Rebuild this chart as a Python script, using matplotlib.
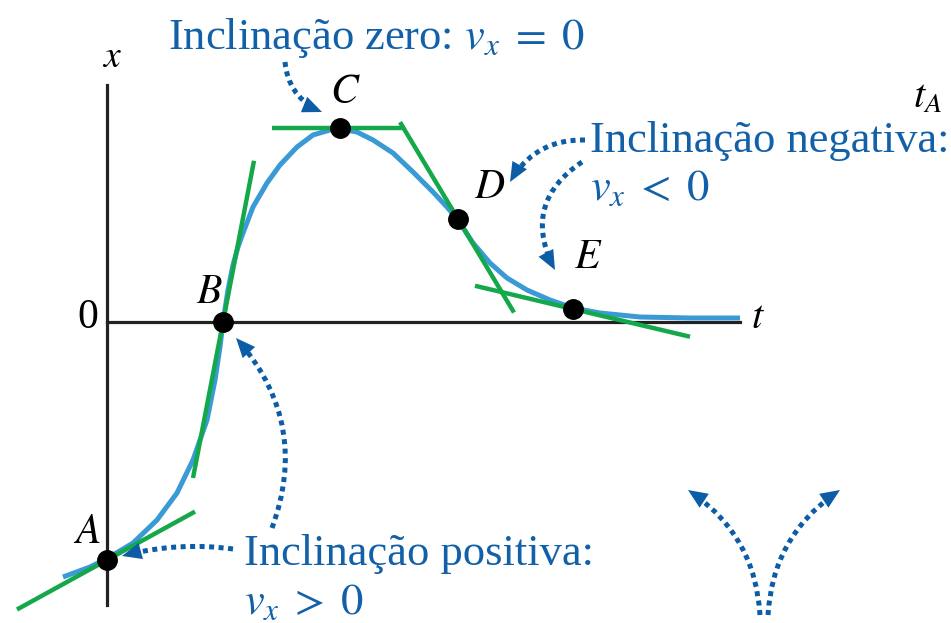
import matplotlib
matplotlib.use("Agg")
import matplotlib.pyplot as plt

plt.rcParams["font.family"] = ["Liberation Serif", "DejaVu Serif"]
plt.rcParams["mathtext.fontset"] = "stix"

CURVE_COLOR = "#3A9AD6"
TANGENT_COLOR = "#14A84A"
NOTE_COLOR = "#1261A8"
ARROW_COLOR = "#0C5CA6"

# position curve x(t), in chart units (origin at the axes crossing)
curve_t = [-0.44, -0.17, 0.01, 0.26, 0.50, 0.70, 0.86, 1.00, 1.08, 1.13,
           1.16, 1.21, 1.26, 1.31, 1.36, 1.46, 1.60, 1.73, 1.90, 2.06,
           2.23, 2.33, 2.50, 2.66, 2.86, 3.06, 3.26, 3.40, 3.51, 3.66,
           3.83, 4.00, 4.20, 4.43, 4.66, 4.93, 5.33, 5.83, 6.33]
curve_x = [-2.55, -2.45, -2.36, -2.21, -1.98, -1.71, -1.38, -0.98, -0.58, -0.25,
           0.00, 0.32, 0.57, 0.75, 0.89, 1.15, 1.39, 1.57, 1.75, 1.87,
           1.92, 1.93, 1.90, 1.82, 1.69, 1.50, 1.30, 1.15, 1.02, 0.79,
           0.59, 0.44, 0.32, 0.22, 0.14, 0.09, 0.05, 0.04, 0.04]

# the five marked instants
point_names = ["A", "B", "C", "D", "E"]
point_t = [0.00, 1.16, 2.33, 3.51, 4.66]
point_x = [-2.38, 0.00, 1.94, 1.03, 0.13]

# tangent at each point: slope and drawn extent in t
tan_slope = [0.55, 5.2, 0.0, -1.67, -0.237]
tan_t0 = [-0.90, 0.86, 1.65, 2.93, 3.68]
tan_t1 = [0.88, 1.47, 2.98, 4.07, 5.83]

# label offsets of point names
label_t = [-0.20, -0.14, 0.05, 0.32, 0.15]
label_x = [0.27, 0.29, 0.35, 0.31, 0.51]

# callout texts (left x, baseline) and curved dotted arrows
notes = [
    ("Inclinação zero: $v_x\\;=\\;0$", 0.61, 2.73),
    ("Inclinação negativa:", 4.83, 1.70),
    ("$v_x\\;<\\;0$", 4.83, 1.22),
    ("Inclinação positiva:", 1.37, -2.43),
    ("$v_x\\;>\\;0$", 1.37, -2.92),
]
arrows = [  # (start t, start x, end t, end x, rad)
    (1.78, 2.60, 2.15, 2.10, 0.30),
    (4.78, 1.82, 4.03, 1.40, 0.30),
    (4.75, 1.60, 4.48, 0.52, 0.45),
    (1.65, -2.06, 1.29, -0.16, 0.30),
    (1.26, -2.27, 0.15, -2.34, 0.10),
    (6.53, -2.93, 5.81, -1.68, 0.25),
    (6.61, -2.93, 7.33, -1.68, -0.25),
]

fig = plt.figure(figsize=(9.51, 6.23), dpi=100)
ax = fig.add_axes([0, 0, 1, 1])
ax.set_xlim(-1.07, 8.44)
ax.set_ylim(-3.01, 3.22)
ax.axis("off")

# axes of the x-t graph
ax.plot([0, 0], [-2.83, 2.37], color="#222222", lw=2.3, zorder=1)
ax.plot([0, 6.33], [0, 0], color="#222222", lw=2.3, zorder=1)
ax.text(0.05, 2.64, "$x$", fontsize=27, ha="center", va="center")
ax.text(-0.19, 0.04, "0", fontsize=30, ha="center", va="center")
ax.text(6.51, 0.04, "$t$", fontsize=29, ha="center", va="center")
ax.text(8.21, 2.24, "$t_A$", fontsize=29, ha="center", va="center")

ax.plot(curve_t, curve_x, color=CURVE_COLOR, lw=3.6, zorder=2,
        solid_capstyle="butt", solid_joinstyle="round")

for t, x, m, a, b in zip(point_t, point_x, tan_slope, tan_t0, tan_t1):
    ax.plot([a, b], [x + m * (a - t), x + m * (b - t)], color=TANGENT_COLOR,
            lw=3.2, zorder=3, solid_capstyle="butt")

ax.plot(point_t, point_x, "o", color="black", ms=14, zorder=4)
for name, t, x, dt, dx in zip(point_names, point_t, point_x, label_t, label_x):
    ax.text(t + dt, x + dx, "$%s$" % name, fontsize=30, ha="center",
            va="center")

for s, t, x in notes:
    ax.text(t, x, s, fontsize=32, color=NOTE_COLOR, ha="left", va="baseline")

for t0, x0, t1, x1, rad in arrows:
    conn = "arc3,rad=%.2f" % rad
    # dotted shaft
    ax.annotate("", xy=(t1, x1), xytext=(t0, x0),
                arrowprops=dict(arrowstyle="-", connectionstyle=conn,
                                color=ARROW_COLOR, lw=3.6, ls=(0, (1, 0.9)),
                                capstyle="butt", shrinkA=0, shrinkB=5))
    # solid head only
    ax.annotate("", xy=(t1, x1), xytext=(t0, x0),
                arrowprops=dict(arrowstyle="-|>,head_length=1.4,head_width=0.6",
                                connectionstyle=conn, color=ARROW_COLOR, lw=0,
                                shrinkA=0, shrinkB=0))

fig.savefig("out.png", dpi=100, facecolor="white")
